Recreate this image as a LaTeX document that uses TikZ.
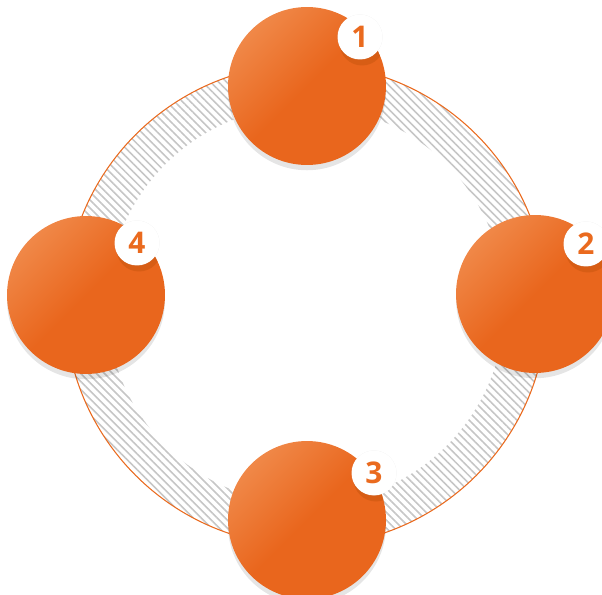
\documentclass[tikz,border=0pt]{standalone}
\usepackage{fontspec}
\setmainfont{Open Sans}
\usepackage{tikz}
\usetikzlibrary{shadows,patterns.meta}
\definecolor{orlight}{HTML}{F08848}
\definecolor{ordark}{HTML}{E9661D}
\definecolor{orline}{HTML}{EA6A1E}
\definecolor{orshade}{HTML}{C9560F}

\begin{document}
\begin{tikzpicture}[
  x=0.02cm, y=-0.02cm,
  bigdot/.style={circle, minimum size=3.16cm, inner sep=0pt,
    top color=orlight, bottom color=ordark, middle color=ordark, shading angle=45,
    drop shadow={shadow xshift=0pt, shadow yshift=-3pt, opacity=0.1, fill=black}},
  badge/.style={circle, minimum size=0.9cm, inner sep=0pt, fill=white,
    font=\fontsize{17}{17}\selectfont\bfseries, text=orline,
    drop shadow={shadow xshift=0pt, shadow yshift=0pt, opacity=0.1, fill=black}},
  band/.style={even odd rule, pattern={Lines[angle=-45, distance=3.2pt, line width=0.9pt]}, pattern color=gray!45},
  ring/.style={draw=orline, line width=0.6pt}
]
  \useasboundingbox (0,0) rectangle (602,595);

  % ring
  \coordinate (c) at (306,305);
  \fill[band] (c) circle[radius=4.82cm] (c) circle[radius=3.98cm];
  \draw[ring] (c) circle[radius=4.82cm];

  % stages
  \node[bigdot] (s1) at (307,86) {};
  \node[bigdot] (s2) at (535,294) {};
  \node[bigdot] (s3) at (307,520) {};
  \node[bigdot] (s4) at (86,295) {};

  % badge shadows
  \foreach \s/\bx/\by in {s1/360/37, s2/586/244, s3/374/473, s4/137/243} {
    \begin{scope}
      \clip (\s) circle[radius=1.58cm];
      \fill[orshade, opacity=0.55] (\bx+2,\by+6) circle[radius=0.45cm];
    \end{scope}
  }

  % badges
  \node[badge] (b1) at (360,37) {1};
  \node[badge] (b2) at (586,244) {2};
  \node[badge] (b3) at (374,473) {3};
  \node[badge] (b4) at (137,243) {4};
\end{tikzpicture}
\end{document}
